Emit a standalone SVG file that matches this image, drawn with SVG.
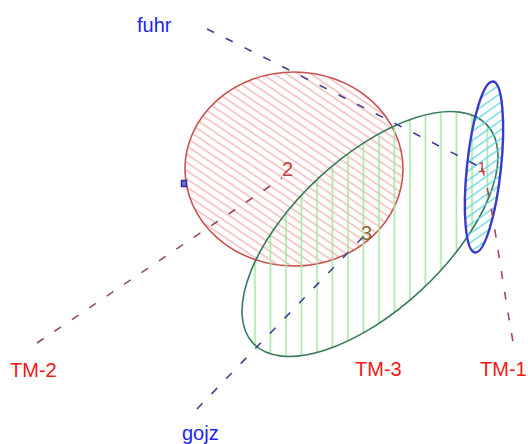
<svg xmlns="http://www.w3.org/2000/svg" width="528" height="444" viewBox="0 0 528 444">
<style>
.lbl{font-family:"Liberation Sans",Arial,sans-serif;font-size:20px}
.blue{fill:#2323f0}
.red{fill:#f01818}
.dash{fill:none;stroke-width:1.6;stroke-dasharray:8 13}
</style>
<defs>
<pattern id="hRed" patternUnits="userSpaceOnUse" width="10" height="6.8" patternTransform="rotate(34)">
<line x1="0" y1="3" x2="10" y2="3" stroke="#f0a8a8" stroke-width="1.2"/>
</pattern>
<pattern id="hGreen" patternUnits="userSpaceOnUse" width="15.5" height="10">
<line x1="7" y1="0" x2="7" y2="10" stroke="#a6e6a6" stroke-width="1.6"/>
</pattern>
<pattern id="hBlue" patternUnits="userSpaceOnUse" width="10" height="7.5" patternTransform="rotate(-35)">
<line x1="0" y1="3.5" x2="10" y2="3.5" stroke="#60d4e8" stroke-width="1.3"/>
</pattern>
<clipPath id="cGreen">
<ellipse cx="370" cy="234" rx="160" ry="76" transform="rotate(-43 370 234)"/>
</clipPath>
<clipPath id="cBlue">
<ellipse cx="484" cy="167" rx="17" ry="86" transform="rotate(6 484 167)"/>
</clipPath>
</defs>
<rect width="528" height="444" fill="#ffffff"/>
<g id="TM-2">
<ellipse cx="294" cy="169" rx="109" ry="97" fill="url(#hRed)" stroke="#c85050" stroke-width="1.6"/>
</g>
<g id="TM-3">
<rect x="200" y="90" width="320" height="290" fill="url(#hGreen)" clip-path="url(#cGreen)"/>
<ellipse cx="370" cy="234" rx="160" ry="76" transform="rotate(-43 370 234)" fill="none" stroke="#3a7a5a" stroke-width="1.6"/>
</g>
<g id="TM-1">
<rect x="450" y="70" width="70" height="195" fill="url(#hBlue)" clip-path="url(#cBlue)"/>
<ellipse cx="484" cy="167" rx="17" ry="86" transform="rotate(6 484 167)" fill="none" stroke="#3a3ac8" stroke-width="2.4"/>
</g>
<g id="connectors">
<path class="dash" d="M207,29 Q340,95 482,168" stroke="#404090"/>
<path class="dash" d="M482,168 C492,200 497,250 513,342" stroke="#b04060"/>
<path class="dash" d="M37,343 L282,178" stroke="#905060"/>
<path class="dash" d="M197,409 L364,236" stroke="#404090"/>
</g>
<g id="point-marker">
<rect x="181.5" y="180.5" width="5" height="6" fill="#7070d0" stroke="#2a2aa0" stroke-width="1.5"/>
</g>
<g id="numbers">
<text class="lbl" x="282" y="176" fill="#c04040">2</text>
<text class="lbl" x="361" y="240" fill="#8a6a3a">3</text>
<text class="lbl" x="478" y="172" fill="#d03030" style="font-size:14px">1</text>
</g>
<g id="labels">
<text class="lbl blue" x="137" y="32">fuhr</text>
<text class="lbl red" x="10" y="377">TM-2</text>
<text class="lbl blue" x="182" y="440">gojz</text>
<text class="lbl red" x="355" y="376">TM-3</text>
<text class="lbl red" x="480" y="376">TM-1</text>
</g>
</svg>
